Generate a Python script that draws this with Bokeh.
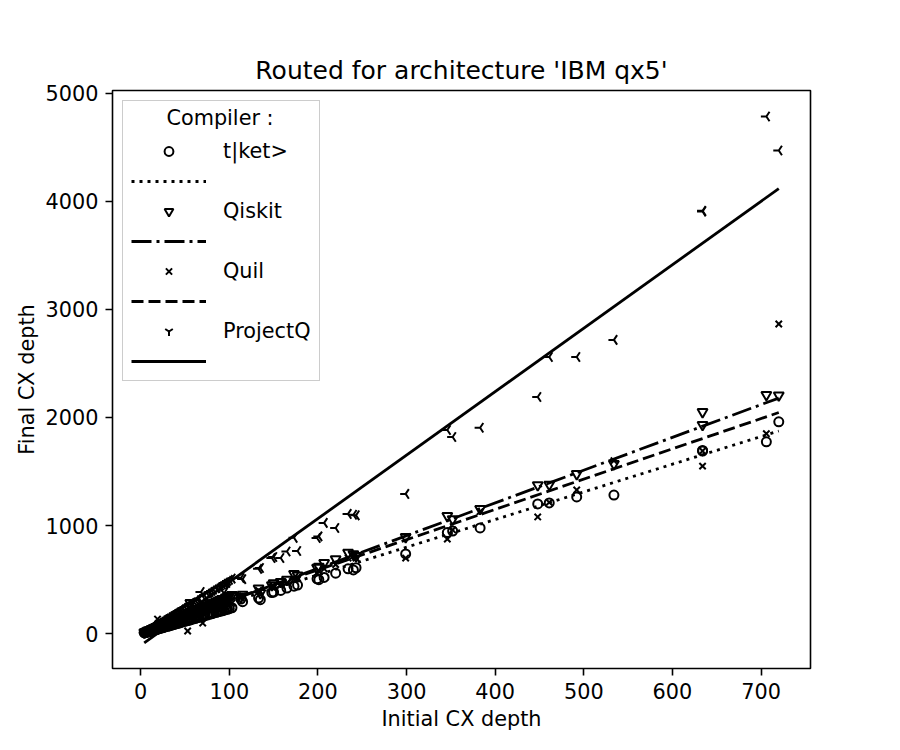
import numpy as np
from bokeh.plotting import figure
from bokeh.models import Legend, LegendItem, Label, FixedTicker
from bokeh.core.properties import value
from bokeh.embed import file_html
from bokeh.resources import INLINE

# ---------------- data ----------------
initial_depth = [4, 5, 6, 7, 8, 9, 10, 11, 12, 13, 14, 15, 16, 17, 18, 19, 20, 21, 22, 24,
                 25, 26, 28, 30, 32, 33, 35, 36, 38, 40, 42, 44, 45, 47, 50, 52, 53, 55, 56, 58,
                 60, 62, 64, 66, 68, 70, 72, 75, 78, 80, 82, 85, 88, 90, 92, 94, 96, 98, 100, 103,
                 113, 115, 133, 135, 148, 150, 158, 165, 173, 177, 199, 201, 207, 220, 234, 240, 243,
                 299, 346, 352, 383, 448, 461, 492, 534, 634, 634, 706, 720,
                 23, 27, 34, 43, 48, 57, 65, 77, 86, 97]

tket_depth = [8, 9, 12, 14, 16, 18, 22, 24, 26, 28, 30, 34, 36, 38, 40, 42, 44, 48, 50, 54,
              56, 58, 64, 68, 72, 74, 80, 82, 86, 92, 96, 100, 104, 108, 114, 120, 122, 126, 128, 134,
              138, 142, 148, 152, 156, 162, 166, 172, 180, 184, 190, 196, 204, 208, 212, 218, 222, 226, 232, 240,
              320, 296, 330, 315, 380, 385, 400, 422, 440, 450, 508, 500, 520, 560, 600, 590, 610,
              738, 935, 950, 978, 1200, 1210, 1265, 1282, 1690, 1695, 1775, 1960,
              58, 66, 84, 104, 116, 140, 160, 188, 210, 240]

qiskit_depth = [12, 15, 20, 22, 28, 30, 34, 36, 42, 44, 48, 52, 56, 58, 64, 66, 70, 72, 78, 84,
                88, 90, 98, 106, 110, 116, 122, 128, 132, 140, 146, 154, 156, 164, 176, 180, 186, 192, 285, 202,
                210, 216, 224, 230, 238, 244, 252, 262, 272, 280, 286, 298, 308, 314, 322, 422, 336, 342, 350, 360,
                340, 362, 420, 377, 450, 468, 480, 500, 553, 540, 610, 620, 655, 690, 750, 735, 720,
                895, 1090, 1060, 1155, 1375, 1380, 1478, 1570, 2052, 1932, 2210, 2205,
                76, 92, 110, 140, 160, 190, 214, 256, 290, 330]

quil_depth = [10, 14, 16, 24, 20, 30, 26, 38, 32, 46, 40, 56, 44, 62, 50, 135, 58, 70, 60, 80,
              70, 92, 78, 100, 88, 112, 96, 124, 104, 138, 116, 152, 124, 166, 136, 180, 25, 150, 196, 160,
              210, 170, 226, 180, 240, 98, 250, 206, 272, 220, 286, 234, 306, 248, 320, 260, 334, 270, 348, 284,
              330, 350, 400, 390, 430, 440, 450, 470, 505, 515, 560, 580, 600, 640, 700, 720, 700,
              700, 875, 960, 1130, 1080, 1215, 1330, 1600, 1690, 1550, 1850, 2865,
              66, 84, 104, 132, 150, 176, 200, 236, 262, 300]

projectq_depth = [12, 18, 22, 28, 34, 38, 44, 48, 56, 58, 66, 70, 76, 80, 88, 92, 98, 100, 108, 118,
                  120, 128, 138, 148, 158, 162, 172, 178, 188, 198, 206, 216, 222, 232, 246, 256, 262, 272, 276, 286,
                  296, 306, 316, 326, 385, 346, 356, 372, 386, 396, 406, 420, 436, 446, 456, 468, 476, 488, 498, 510,
                  515, 505, 600, 608, 700, 710, 700, 760, 887, 765, 885, 900, 1025, 978, 1108, 1100, 1095,
                  1293, 1884, 1820, 1905, 2190, 2560, 2560, 2718, 3912, 3905, 4785, 4470,
                  110, 130, 168, 210, 236, 280, 320, 380, 424, 470]

compilers = ["t|ket>", "Qiskit", "Quil", "ProjectQ"]
fit_slope = [2.56, 3.03, 2.80, 5.87]
fit_intercept = [32, -2, 30, -109]

x_ticks = [0, 100, 200, 300, 400, 500, 600, 700]
y_ticks = [0, 1000, 2000, 3000, 4000, 5000]

# ---------------- figure ----------------
FONT = "DejaVu Sans"
p = figure(width=900, height=750, output_backend="svg", toolbar_location=None,
           x_range=(-31.8, 755.8), y_range=(-322, 5025),
           min_border_left=112, min_border_right=90, min_border_top=90, min_border_bottom=82,
           title="Routed for architecture 'IBM qx5'")
p.background_fill_color = "white"
p.border_fill_color = "white"
p.grid.visible = False
p.outline_line_color = "black"
p.outline_line_width = 1.6

p.title.align = "center"
p.title.text_font = FONT
p.title.text_font_size = "25px"
p.title.text_font_style = "normal"
p.title.text_color = "black"
p.title.standoff = 12

for ax in (p.xaxis[0], p.yaxis[0]):
    ax.axis_line_color = None
    ax.major_tick_in = 0
    ax.major_tick_out = 7
    ax.major_tick_line_width = 1.6
    ax.major_tick_line_color = "black"
    ax.minor_tick_line_color = None
    ax.major_label_text_font = FONT
    ax.major_label_text_font_size = "20.8px"
    ax.major_label_text_color = "black"
    ax.major_label_standoff = 7
    ax.axis_label_text_font = FONT
    ax.axis_label_text_font_size = "20.8px"
    ax.axis_label_text_font_style = "normal"
    ax.axis_label_text_color = "black"

p.xaxis.axis_label_standoff = 5
p.yaxis.axis_label_standoff = 4
p.xaxis.ticker = FixedTicker(ticks=x_ticks)
p.yaxis.ticker = FixedTicker(ticks=y_ticks)
p.xaxis.axis_label = "Initial CX depth"
p.yaxis.axis_label = "Final CX depth"

series = [tket_depth, qiskit_depth, quil_depth, projectq_depth]
markers = ["circle", "inverted_triangle", "x", "y"]
sizes = [9, 10, 9, 11]
angles = [0, 0, 0, -np.pi / 2]
dashes = ["3 5", "20 5 3 5", "12 5", "solid"]

xs = np.array(initial_depth, dtype=float)
x_line = np.array([xs.min(), xs.max()])

items = []
for name, ys, mk, sz, ang, dash, m, b in zip(compilers, series, markers, sizes, angles, dashes,
                                               fit_slope, fit_intercept):
    r_pts = p.scatter(initial_depth, ys, marker=mk, size=sz, angle=ang,
                      fill_color=None, line_color="black", line_width=2)
    r_line = p.line(x_line, m * x_line + b, line_color="black", line_width=2.8, line_dash=dash)
    items.append(LegendItem(label=value(name), renderers=[r_pts]))
    items.append(LegendItem(label=value(""), renderers=[r_line]))

legend = Legend(items=items, location="top_left", margin=10,
                title="Compiler :", title_text_alpha=0.0,
                title_text_font=FONT, title_text_font_size="20.8px", title_text_font_style="normal",
                title_standoff=6,
                label_text_font=FONT, label_text_font_size="20.8px", label_text_color="black",
                glyph_width=75, glyph_height=22, label_height=22, label_standoff=17,
                spacing=7, padding=8,
                border_line_color="#cccccc", border_line_width=1.6, border_line_alpha=1.0,
                background_fill_color="white", background_fill_alpha=0.0)
p.add_layout(legend)

legend_title = Label(x=107.5, y=550.5, x_units="screen", y_units="screen",
                     text="Compiler :", text_align="center", text_baseline="middle",
                     text_font=FONT, text_font_size="20.8px", text_color="black",
                     level="overlay")
p.add_layout(legend_title)

open("out.html", "w").write(file_html(p, INLINE))
